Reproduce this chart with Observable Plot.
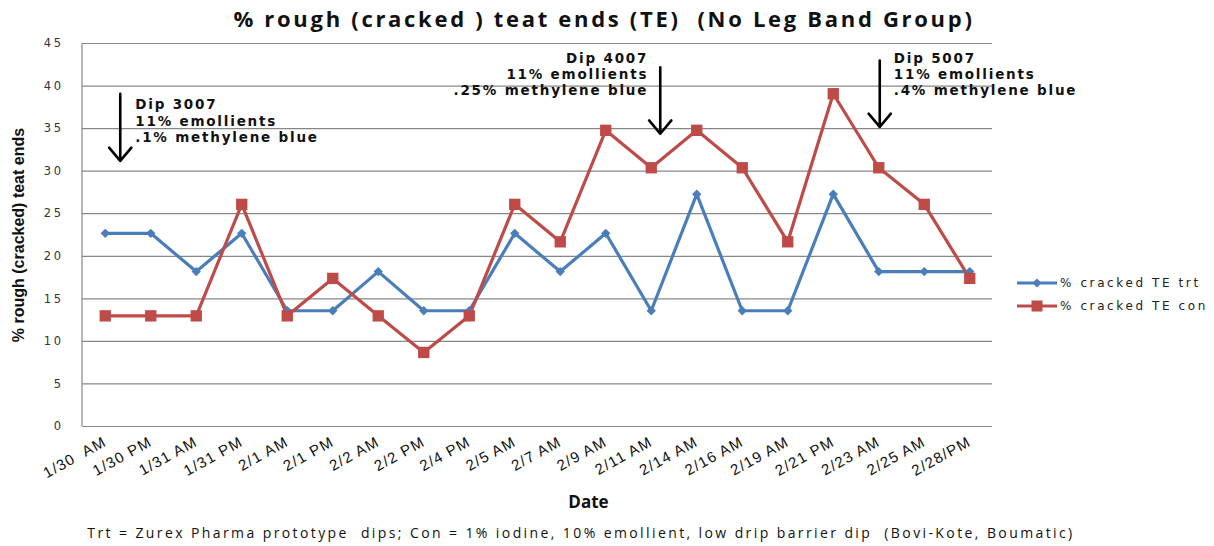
<!DOCTYPE html>
<html>
<head>
<meta charset="utf-8">
<script src="https://cdn.jsdelivr.net/npm/d3@7"></script>
<script src="https://cdn.jsdelivr.net/npm/@observablehq/plot@0.6"></script>
<style>
  html, body { margin: 0; padding: 0; background: #fff; }
  #wrap { position: relative; width: 1214px; height: 546px; overflow: hidden; }
  #title { position: absolute; left: 0; top: 0; width: 1214px; height: 36px; line-height: 36px;
    text-align: center; font-family: "Open Sans", sans-serif; font-weight: bold; font-size: 22px;
    letter-spacing: 2.7px; color: #111; text-indent: -6px; }
  #chart { position: absolute; left: 0; top: 36px; }
  #caption { position: absolute; left: 0; top: 523px; width: 1162px; text-align: center;
    font-family: "Open Sans", sans-serif; font-size: 14px; color: #111; letter-spacing: 2.4px; }
  #legend { position: absolute; left: 1017px; top: 271px; font-family: "DejaVu Sans", sans-serif;
    font-size: 12px; letter-spacing: 2.6px; color: #222; white-space: nowrap; }
  .li { display: flex; align-items: center; height: 23px; }
  .li svg { margin-right: 1px; }
  g[aria-label="y-axis tick label"] text { letter-spacing: 2.5px; }
  g[aria-label="x-axis tick label"] text { letter-spacing: 1.3px; }
</style>
</head>
<body>
<div id="wrap">
  <div id="title">% rough (cracked ) teat ends (TE)&nbsp; (No Leg Band Group)</div>
  <div id="chart"></div>
  <div id="legend"></div>
  <div id="caption">Trt = Zurex Pharma prototype&nbsp; dips; Con = 1% iodine, 10% emollient, low drip barrier dip&nbsp; (Bovi-Kote, Boumatic)</div>
</div>
<script>
const dates = ["1/30  AM","1/30 PM","1/31 AM","1/31 PM","2/1 AM","2/1 PM","2/2 AM","2/2 PM","2/4 PM","2/5 AM",
  "2/7 AM","2/9 AM","2/11 AM","2/14 AM","2/16 AM","2/19 AM","2/21 PM","2/23 AM","2/25 AM","2/28/PM"];
const trt = [22.7,22.7,18.2,22.7,13.6,13.6,18.2,13.6,13.6,22.7,18.2,22.7,13.6,27.3,13.6,13.6,27.3,18.2,18.2,18.2];
const con = [13.0,13.0,13.0,26.1,13.0,17.4,13.0,8.7,13.0,26.1,21.7,34.8,30.4,34.8,30.4,21.7,39.1,30.4,26.1,17.4];
const seriesNames = ["% cracked TE trt","% cracked TE con"];
const seriesColors = ["#4A7EBB","#BE4B48"];
const yTicks = [0,5,10,15,20,25,30,35,40,45];

// annotations
const annoText = [
  "Dip 3007\n11% emollients\n.1% methylene blue",
  "Dip 4007\n11% emollients\n.25% methylene blue",
  "Dip 5007\n11% emollients\n.4% methylene blue"
];
const annoDate = ["1/30  AM","2/11 AM","2/23 AM"];
const annoTextY = [38.6, 44.1, 44.1];
const arrowTop = [39.1, 42.2, 43.0];
const arrowTip = [31.2, 34.4, 35.2];

const rows = [];
dates.forEach((d, i) => {
  rows.push({date: d, series: seriesNames[0], value: trt[i]});
});
dates.forEach((d, i) => {
  rows.push({date: d, series: seriesNames[1], value: con[i]});
});
const annos = annoText.map((t, i) => ({text: t, date: annoDate[i], ty: annoTextY[i], y1: arrowTop[i], y2: arrowTip[i]}));

const leftLine = (index, scales, values, dims) => {
  const l = document.createElementNS("http://www.w3.org/2000/svg", "line");
  l.setAttribute("x1", dims.marginLeft); l.setAttribute("x2", dims.marginLeft);
  l.setAttribute("y1", dims.marginTop); l.setAttribute("y2", dims.height - dims.marginBottom);
  l.setAttribute("stroke", "#878787"); l.setAttribute("stroke-width", 1.2);
  return l;
};

const annoFont = {fontFamily: "DejaVu Sans", fontWeight: "bold", fontSize: 13.5, fill: "#111", lineAnchor: "top", lineHeight: 1.2};

const chart = Plot.plot({
  width: 1214,
  height: 484,
  marginLeft: 82,
  marginRight: 222,
  marginTop: 7,
  marginBottom: 94,
  style: {background: "transparent", overflow: "visible"},
  x: {type: "point", domain: dates, padding: 0.5, round: false, label: null},
  y: {domain: [0, 45], label: null},
  color: {domain: seriesNames, range: seriesColors},
  marks: [
    Plot.gridY(yTicks, {stroke: "#878787", strokeOpacity: 1, strokeWidth: 1.2}),
    leftLine,
    Plot.axisY(yTicks, {tickSize: 0, tickPadding: 19, fontFamily: "DejaVu Sans", fontSize: 11.5, fill: "#333", label: null}),
    Plot.axisX({tickSize: 0, tickRotate: -29, tickPadding: 14, fontFamily: "Liberation Sans", fontSize: 15, fill: "#111", label: null}),
    Plot.text(["% rough (cracked) teat ends"], {frameAnchor: "left", textAnchor: "middle", dx: -64, rotate: -90,
      fontFamily: "Liberation Sans Narrow, Liberation Sans", fontWeight: "bold", fontSize: 16, fill: "#111"}),
    Plot.text(["Date"], {frameAnchor: "bottom", dx: 51, dy: 81, fontFamily: "Open Sans", fontWeight: "bold", fontSize: 17, fill: "#111"}),
    Plot.line(rows, {x: "date", y: "value", z: "series", stroke: "series", strokeWidth: 3.2}),
    Plot.dot(rows.filter(d => d.series === seriesNames[0]), {x: "date", y: "value", symbol: "diamond2", r: 4.2, fill: seriesColors[0], stroke: "none"}),
    Plot.dot(rows.filter(d => d.series === seriesNames[1]), {x: "date", y: "value", symbol: "square", r: 6.4, fill: seriesColors[1], stroke: "none"}),
    Plot.arrow(annos.slice(0,1), {x: "date", y1: "y1", y2: "y2", dx: 15, stroke: "#000", strokeWidth: 2.6, headLength: 10, headAngle: 80}),
    Plot.arrow(annos.slice(1,2), {x: "date", y1: "y1", y2: "y2", dx: 9, stroke: "#000", strokeWidth: 2.6, headLength: 10, headAngle: 80}),
    Plot.arrow(annos.slice(2,3), {x: "date", y1: "y1", y2: "y2", dx: 1, stroke: "#000", strokeWidth: 2.6, headLength: 10, headAngle: 80}),
    Plot.text(annos.slice(0,1), {x: "date", y: "ty", text: "text", dx: 30, textAnchor: "start", ...annoFont}),
    Plot.text(annos.slice(1,2), {x: "date", y: "ty", text: "text", dx: -3, textAnchor: "end", ...annoFont}),
    Plot.text(annos.slice(2,3), {x: "date", y: "ty", text: "text", dx: 15, textAnchor: "start", ...annoFont})
  ]
});
document.getElementById("chart").appendChild(chart);
// widen the annotation lettering like the stretched original
d3.select(chart).selectAll("text")
  .filter(function() { return /emollients/.test(this.textContent); })
  .style("letter-spacing", "1.8px");

// legend
const legend = document.getElementById("legend");
seriesNames.forEach((name, i) => {
  const row = document.createElement("div");
  row.className = "li";
  const sw = i === 0
    ? `<svg width="42" height="14"><line x1="0" y1="7" x2="40" y2="7" stroke="${seriesColors[i]}" stroke-width="3"/><path d="M20,2.5L24.5,7L20,11.5L15.5,7Z" fill="${seriesColors[i]}"/></svg>`
    : `<svg width="42" height="14"><line x1="0" y1="7" x2="40" y2="7" stroke="${seriesColors[i]}" stroke-width="3"/><rect x="14.5" y="1.5" width="11" height="11" fill="${seriesColors[i]}"/></svg>`;
  row.innerHTML = sw + `<span>${name}</span>`;
  legend.appendChild(row);
});
</script>
</body>
</html>
